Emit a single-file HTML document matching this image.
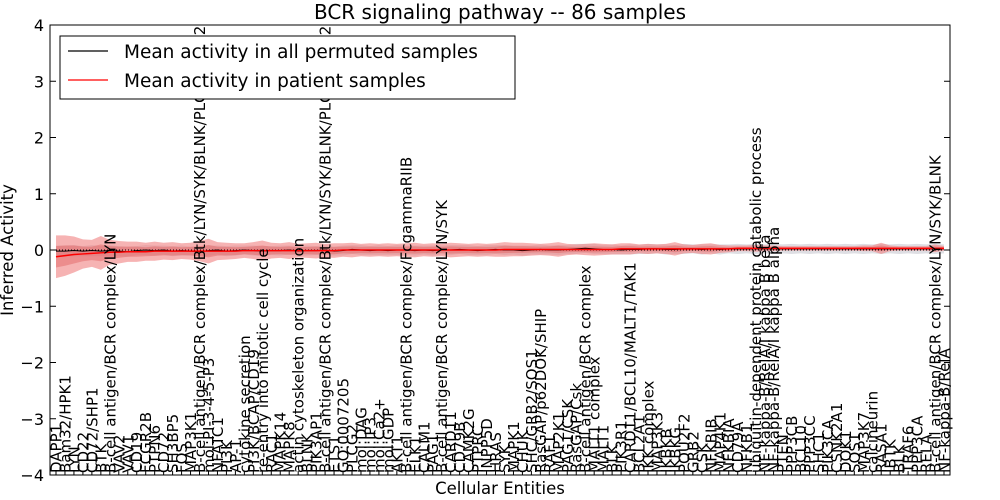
<!DOCTYPE html>
<html><head><meta charset="utf-8"><style>
html,body{margin:0;padding:0;background:#fff;}
svg{display:block;font-family:"DejaVu Sans","Liberation Sans",sans-serif;}
</style></head><body>
<svg id="chart" width="1000" height="500"></svg>
<script>
const categories=["DAPP1","Bam32/HPK1","LYN","CD22","CD72/SHP1","BTK","B-cell antigen/BCR complex/LYN","VAV2","VAV1","CD19","FCGR2B","PTPN6","CD72","SH3BP5","FOS","MAP3K1","B-cell antigen/BCR complex/Btk/LYN/SYK/BLNK/PLCgamma2","mol:PI-3-4-5-P3","NFATC1","PI3K","AP-1","cytokine secretion","PI3K/BCAP/CD19","re-entry into mitotic cell cycle","RAC1","MAPK14","MAPK8","actin cytoskeleton organization","BLNK","PIK3AP1","B-cell antigen/BCR complex/Btk/LYN/SYK/BLNK/PLCgamma2","ETS1","GO:0007205","PLCG2","mol:DAG","mol:IP3","mol:Ca2+","mol:GDP","AKT1","B-cell antigen/BCR complex/FcgammaRIIB","ELK1","CALM1","PAG1","B-cell antigen/BCR complex/LYN/SYK","CARD11","CD79B","CAMK2G","PTPRC","INPP5D","HRAS","SYK","MAPK1","CHUK","SHC/GRB2/SOS1","RasGAP/p62DOK/SHIP","RAF1","MAP2K1","PAG1/CSK","RasGAP/Csk","B-cell antigen/BCR complex","MALT1 complex","MALT1","BLK","PIK3R1","CARD11/BCL10/MALT1/TAK1","BCL2A1","IKK complex","MAP3K3","IKBKB","IKBKG","POU2F2","GRB2","CSK","NFKBIB","MAP4K1","NFKBIA","CD79A","NFKB1","ubiquitin-dependent protein catabolic process","NF-kappa-B/RelA/I kappa B beta","NF-kappa-B/RelA/I kappa B alpha","PTEN","PPP3CB","BCL10","PPP3CC","SHC1","PIK3CA","CSNK2A1","DOK1","SOS1","MAP3K7","calcineurin","RASA1","IBTK","BLK","TRAF6","PPP3CA","RELA","B-cell antigen/BCR complex/LYN/SYK/BLNK","NF-kappa-B/RelA"];
const permMean=[-0.02,-0.02,-0.01,-0.02,-0.01,-0.02,-0.01,-0.02,-0.03,-0.01,0.00,-0.01,0.00,-0.02,-0.01,-0.02,-0.03,-0.01,0.00,-0.02,-0.01,0.00,-0.01,-0.02,-0.01,-0.01,0.00,-0.02,-0.01,-0.01,0.00,-0.02,-0.01,0.01,0.00,-0.01,0.00,-0.01,0.00,0.00,-0.01,0.00,-0.01,0.00,0.00,0.01,0.00,-0.01,0.00,0.01,0.00,0.00,-0.01,0.00,0.01,0.00,0.00,0.01,0.02,0.03,0.02,0.01,0.01,0.00,0.01,0.01,0.02,0.02,0.01,0.01,0.02,0.02,0.01,0.02,0.01,0.02,0.02,0.02,0.02,0.02,0.02,0.02,0.02,0.02,0.02,0.02,0.02,0.02,0.02,0.02,0.02,0.02,0.02,0.02,0.02,0.02,0.02,0.02,0.02,0.02];
const permSpread=[0.10,0.10,0.10,0.09,0.10,0.09,0.10,0.09,0.09,0.08,0.09,0.09,0.08,0.09,0.09,0.08,0.09,0.09,0.08,0.09,0.09,0.08,0.09,0.09,0.08,0.09,0.08,0.09,0.09,0.08,0.09,0.08,0.09,0.08,0.09,0.08,0.09,0.08,0.09,0.08,0.09,0.08,0.09,0.08,0.09,0.08,0.09,0.08,0.09,0.08,0.09,0.08,0.09,0.08,0.09,0.08,0.09,0.08,0.09,0.08,0.09,0.08,0.09,0.08,0.09,0.08,0.09,0.08,0.09,0.08,0.09,0.08,0.09,0.08,0.09,0.08,0.09,0.08,0.09,0.08,0.09,0.08,0.09,0.08,0.09,0.08,0.09,0.08,0.09,0.08,0.09,0.08,0.09,0.08,0.09,0.08,0.09,0.08,0.09,0.08];
const patientMean=[-0.12,-0.10,-0.08,-0.07,-0.06,-0.05,-0.04,-0.04,-0.03,-0.03,-0.03,-0.02,-0.02,-0.02,-0.02,-0.02,-0.02,-0.02,-0.02,-0.02,-0.02,-0.01,-0.01,-0.01,-0.01,-0.01,-0.01,-0.01,-0.01,-0.01,-0.01,-0.01,0.00,0.00,0.00,0.00,0.00,0.00,0.00,0.00,0.00,0.00,0.00,0.00,0.00,0.00,0.00,0.00,0.00,0.00,0.01,0.01,0.01,0.01,0.01,0.01,0.01,0.01,0.01,0.01,0.01,0.01,0.01,0.02,0.02,0.02,0.02,0.02,0.02,0.02,0.02,0.02,0.02,0.02,0.02,0.02,0.03,0.03,0.03,0.03,0.03,0.03,0.03,0.03,0.03,0.03,0.03,0.03,0.03,0.03,0.03,0.03,0.03,0.03,0.03,0.03,0.03,0.03,0.03,0.03];
const patientSpread=[0.38,0.36,0.32,0.26,0.24,0.30,0.22,0.20,0.18,0.18,0.16,0.17,0.15,0.16,0.14,0.15,0.18,0.22,0.16,0.15,0.14,0.13,0.15,0.18,0.14,0.13,0.15,0.12,0.13,0.14,0.12,0.13,0.12,0.13,0.11,0.12,0.11,0.12,0.11,0.12,0.13,0.11,0.12,0.11,0.13,0.12,0.11,0.12,0.11,0.12,0.13,0.12,0.12,0.11,0.10,0.11,0.13,0.10,0.09,0.10,0.11,0.10,0.09,0.10,0.10,0.08,0.09,0.08,0.09,0.12,0.08,0.07,0.09,0.10,0.07,0.06,0.05,0.05,0.06,0.05,0.05,0.04,0.04,0.04,0.04,0.04,0.04,0.04,0.04,0.04,0.05,0.05,0.10,0.05,0.04,0.04,0.04,0.04,0.07,0.04];
const yTicks=[-4,-3,-2,-1,0,1,2,3,4];

const NS="http://www.w3.org/2000/svg";
const svg=document.getElementById('chart');
const L=50,R=950,T=25,B=475;
const x=i=>56+i*(944-56)/(categories.length-1);
const y=v=>250-v*(B-T)/8;
function mk(tag,attrs,parent){const e=document.createElementNS(NS,tag);for(const k in attrs)e.setAttribute(k,attrs[k]);(parent||svg).appendChild(e);return e;}
function band(mean,spread,k){let d='';mean.forEach((m,i)=>{d+=(i?'L':'M')+x(i)+','+y(m+spread[i]*k);});for(let i=mean.length-1;i>=0;i--)d+='L'+x(i)+','+y(mean[i]-spread[i]*k);return d+'Z';}
function line(mean){return mean.map((m,i)=>(i?'L':'M')+x(i)+','+y(m)).join('');}

const bg=mk('path',{d:band(permMean,permSpread,1),fill:'#c8c8d0','fill-opacity':0.6,stroke:'none'});


const r1=mk('path',{d:band(patientMean,patientSpread,1),fill:'#f08080','fill-opacity':0.6,stroke:'none'});


const r2=mk('path',{d:band(patientMean,patientSpread,0.5),fill:'#e06060','fill-opacity':0.45,stroke:'none'});


const zl=mk('line',{x1:L,x2:R,y1:y(0),y2:y(0),stroke:'#000','stroke-dasharray':'1,2','stroke-width':1});


const pl=mk('path',{d:line(permMean),fill:'none',stroke:'#000','stroke-width':1});


const rl=mk('path',{d:line(patientMean),fill:'none',stroke:'#f00','stroke-width':1.5});



categories.forEach((c,i)=>{
  const t=mk('text',{x:0,y:0,transform:`translate(${x(i)+5.5},473) rotate(-90)`,'font-size':15,fill:'#000'});
  t.textContent=c;
  
  
  const tk=mk('line',{x1:x(i),x2:x(i),y1:B,y2:B-4,stroke:'#000'});
  
  
});
yTicks.forEach(v=>{
  const t=mk('text',{x:44,y:y(v)+6,'text-anchor':'end','font-size':16});
  t.textContent=v<0?'\u2212'+Math.abs(v):String(v);
  
  
  const a=mk('line',{x1:L,x2:L+6,y1:y(v),y2:y(v),stroke:'#000'});
  
  
  const b=mk('line',{x1:R,x2:R-6,y1:y(v),y2:y(v),stroke:'#000'});
  
  
});
const fr=mk('rect',{x:L,y:T,width:R-L,height:B-T,fill:'none',stroke:'#000','stroke-width':1});


const ti=mk('text',{x:500,y:19,'text-anchor':'middle','font-size':20});
ti.textContent='BCR signaling pathway -- 86 samples';


const xt=mk('text',{x:500,y:494,'text-anchor':'middle','font-size':16.5});
xt.textContent='Cellular Entities';


const yt=mk('text',{x:0,y:0,transform:'translate(13,250) rotate(-90)','text-anchor':'middle','font-size':16.5});
yt.textContent='Inferred Activity';



const lg=mk('g',{});


mk('rect',{x:60,y:36,width:455,height:63,fill:'#fff',stroke:'#000'},lg);
const l1=mk('line',{x1:68,x2:108,y1:51,y2:51,stroke:'#000','stroke-width':1.2},lg);


const t1=mk('text',{x:124,y:58,'font-size':18.5},lg);
t1.textContent='Mean activity in all permuted samples';


const l2=mk('line',{x1:68,x2:108,y1:80,y2:80,stroke:'#f00','stroke-width':1.2},lg);


const t2=mk('text',{x:124,y:87,'font-size':18.5},lg);
t2.textContent='Mean activity in patient samples';


</script>
</body></html>
